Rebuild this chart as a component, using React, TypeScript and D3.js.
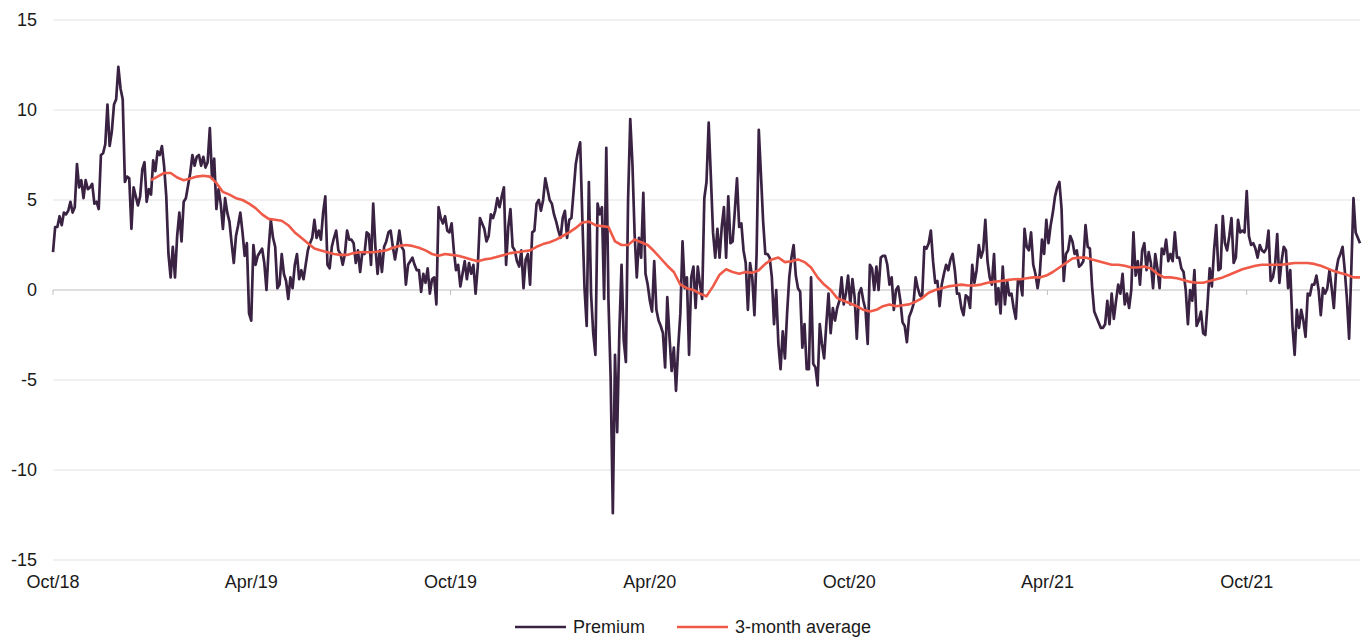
import React from "react";
import * as d3 from "d3";

// premium / discount (%), one reading every 2 days from 1 Oct 2018
const premium = [
  2.1, 3.5, 3.5, 4.1, 3.6, 4.3, 4.2, 4.4, 4.9, 4.3,
  4.6, 7.0, 5.7, 6.1, 5.1, 6.1, 5.6, 5.7, 5.9, 4.8,
  4.9, 4.5, 7.5, 7.6, 8.1, 10.3, 8.0, 8.8, 10.3, 10.6,
  12.4, 11.2, 10.6, 6.0, 6.3, 6.2, 3.4, 5.7, 5.2, 4.7,
  5.2, 6.7, 7.1, 4.9, 5.6, 5.3, 7.2, 6.6, 7.7, 7.5,
  8.0, 6.9, 5.2, 2.0, 0.7, 2.4, 0.7, 3.0, 4.3, 2.7,
  4.9, 5.1, 5.8, 6.5, 7.5, 6.9, 7.4, 7.5, 6.9, 7.4,
  6.8, 7.1, 9.0, 6.2, 7.3, 4.5, 5.6, 4.8, 3.4, 5.1,
  4.3, 3.8, 2.6, 1.5, 3.0, 3.6, 4.3, 3.2, 1.9, 2.6,
  -1.3, -1.7, 2.5, 1.4, 1.9, 2.1, 2.3, 1.5, 0, 2.3,
  3.9, 2.9, 2.4, 0.1, 0.3, 2.0, 0.9, 0.5, -0.5, 0.7,
  0.1, 1.4, 2.0, 0.6, 1.1, 0.6, 1.4, 2.2, 2.6, 2.9,
  3.9, 2.9, 3.3, 2.8, 4.3, 5.2, 1.4, 1.2, 2.4, 2.9,
  3.3, 2.2, 2.0, 1.4, 2.0, 3.3, 2.8, 2.8, 2.6, 1.5,
  2.2, 1.0, 2.1, 2.0, 3.2, 3.1, 1.4, 4.8, 2.4, 0.9,
  2.2, 1.0, 2.4, 2.7, 3.2, 3.3, 2.4, 1.7, 2.4, 3.3,
  2.4, 2.2, 0.3, 1.4, 1.6, 1.8, 1.4, 1.1, 1.1, -0.1,
  0.9, 0.4, 1.2, -0.2, 0.6, 0.7, -0.8, 4.6, 4.0, 3.7,
  4.1, 3.3, 3.2, 3.7, 2.2, 1.1, 1.4, 0.2, 0.9, 1.6,
  0.6, 1.5, 0.9, 1.4, -0.2, 1.3, 4.0, 3.7, 3.4, 2.7,
  3.0, 4.2, 4.0, 4.4, 5.1, 4.6, 5.2, 5.7, 1.4, 3.5,
  4.5, 2.4, 2.2, 1.6, 1.3, 2.2, 0.1, 1.7, 2.0, 0.3,
  3.2, 3.3, 4.8, 5.0, 4.4, 5.0, 6.2, 5.6, 5.0, 4.8,
  4.2, 3.8, 3.3, 2.9, 4.0, 4.4, 2.9, 3.9, 4.0, 5.5,
  7.0, 7.7, 8.2, 4.0, 0.1, -2.0, 6.0, -0.2, -2.4, -3.6,
  4.8, 4.2, 4.6, -0.5, 7.9, -0.6, -4.9, -12.4, -3.6, -7.9,
  -2.3, 1.4, -2.8, -4.0, 5.0, 9.5, 7.0, 3.1, 0.7, 2.9,
  1.8, 5.4, 0.9, 0.3, -0.6, -1.2, 1.6, -1.1, -1.7, -2.0,
  -2.4, -4.3, -0.4, -2.6, -4.5, -3.2, -5.6, -3.2, -1.3, 2.7,
  0.1, 0.7, -3.6, 0.7, 1.3, -1.0, 1.3, 0.3, -0.5, 5.1,
  6.0, 9.3, 6.3, 3.2, 1.8, 3.4, 1.8, 3.5, 4.6, 1.8,
  5.2, 2.6, 2.7, 4.4, 6.2, 3.5, 3.7, 2.2, 1.5, -1.1,
  1.5, 0.7, -1.4, 2.0, 8.9, 6.4, 3.8, 2.0, 2.0, 1.8,
  0.7, -1.9, 0, -3.0, -4.4, -2.3, -3.8, -1.3, 0.7, 1.8,
  2.5, 0.8, 0.1, -0.1, -3.2, -1.9, -4.4, -4.4, 0.7, -4.1,
  -4.3, -5.3, -1.9, -3.0, -3.8, -1.9, -0.2, -2.4, -1.0, -1.7,
  -1.0, -0.6, 0.7, -0.8, -0.2, 0.8, -0.8, 0.6, -0.4, -2.7,
  -0.2, 0.1, -0.6, -1.1, -3.0, 1.4, 1.2, 0, 1.3, 0,
  1.8, 1.9, 1.9, 1.4, 0.3, 0.7, -1.1, 0, 0.2, -0.6,
  -1.8, -2.0, -2.9, -1.5, -1.2, -0.8, 0.7, 0.1, -0.3, -0.4,
  2.4, 2.3, 2.6, 3.3, 1.6, 0.4, 0.5, -0.9, 0.3, 0.9,
  1.4, 1.1, 1.7, 2.0, 1.1, -0.2, -0.2, -1.0, -1.4, -0.3,
  -0.4, -1.0, 1.4, 0.4, 1.1, 2.5, 1.8, 2.2, 3.9, 1.6,
  0.7, 0.3, 2.0, -0.8, 0.1, -1.3, 1.3, -0.8, 0.5, -0.3,
  -0.2, -1.0, -1.6, 0.6, 0.5, -0.3, 3.4, 2.4, 2.2, 3.2,
  1.4, 0.9, 0.1, 0.9, 2.8, 2.0, 3.9, 2.6, 3.6, 4.3,
  5.2, 5.7, 6.0, 4.5, 0.5, 2.0, 2.2, 3.0, 2.7, 2.0,
  2.2, 1.3, 1.4, 1.6, 3.6, 2.4, 2.3, 0.2, -1.2, -1.5,
  -1.8, -2.1, -2.1, -1.9, -0.6, -1.9, -0.2, -1.6, -0.6, 0.3,
  -0.2, 0.9, -0.8, -0.2, -1.0, 0, 3.2, 0.8, 1.6, 0.3,
  2.2, 2.6, 1.1, 2.1, 1.5, 0.1, 2.0, 1.2, 0.1, 2.3,
  2.0, 2.8, 1.6, 2.0, 1.6, 3.2, 1.8, 1.8, 1.2, 1.0,
  0, -1.9, 0, -0.6, 1.1, -2.0, -1.7, -1.2, -2.4, -2.5,
  -0.8, 1.2, 0.2, 2.2, 3.6, 1.1, 1.2, 4.1, 2.6, 2.2,
  3.0, 4.0, 1.5, 1.8, 3.9, 3.2, 3.3, 3.2, 5.5, 3.0,
  2.5, 2.6, 2.3, 1.8, 2.5, 2.2, 2.1, 2.3, 3.3, 0.5,
  0.7, 1.4, 3.1, 0.4, 1.6, 2.4, 2.2, 0.1, 1.1, -2.0,
  -3.6, -1.1, -2.1, -1.1, -1.7, -2.6, -0.2, -0.3, 0.3, 0.3,
  0.8, 0, -1.4, 0.1, -0.2, 0.1, 1.1, 0.1, -1.0, 1.0,
  1.7, 2.0, 2.4, 1.1, -0.5, -2.7, 1.1, 5.1, 3.2, 2.9,
  2.6,
];

// 3-month rolling average, one reading every 6 days from 30 Dec 2018
const average = [
  6.1, 6.3, 6.5, 6.5, 6.25, 6.1, 6.2, 6.3, 6.35, 6.3,
  5.95, 5.45, 5.3, 5.1, 5.0, 4.8, 4.55, 4.2, 3.95, 3.9,
  3.85, 3.6, 3.2, 2.9, 2.6, 2.3, 2.2, 2.1, 2.0, 1.95,
  1.95, 2.05, 2.1, 2.1, 2.1, 2.15, 2.2, 2.35, 2.45, 2.5,
  2.45, 2.35, 2.2, 2.0, 1.9, 2.0, 1.95, 1.9, 1.8, 1.7,
  1.6, 1.7, 1.75, 1.85, 1.95, 2.05, 2.1, 2.15, 2.2, 2.4,
  2.55, 2.65, 2.8, 3.0, 3.2, 3.45, 3.75, 3.8, 3.6, 3.55,
  3.5, 2.7, 2.5, 2.5, 2.8, 2.65, 2.5, 2.15, 1.75, 1.35,
  1.0, 0.3, 0.1, 0, -0.2, -0.35, 0.2, 0.85, 1.15, 1.0,
  0.9, 1.0, 0.95, 1.1, 1.45, 1.7, 1.8, 1.55, 1.6, 1.7,
  1.55, 1.25, 0.7, 0.3, 0, -0.45, -0.6, -0.75, -0.9, -1.1,
  -1.2, -1.1, -0.9, -0.8, -0.9, -0.85, -0.8, -0.65, -0.45, -0.15,
  0, 0.1, 0.2, 0.25, 0.3, 0.25, 0.25, 0.3, 0.4, 0.45,
  0.5, 0.55, 0.6, 0.6, 0.65, 0.7, 0.7, 0.8, 1.0, 1.25,
  1.5, 1.75, 1.8, 1.8, 1.7, 1.6, 1.5, 1.4, 1.4, 1.35,
  1.25, 1.25, 1.3, 1.2, 0.9, 0.7, 0.7, 0.65, 0.55, 0.45,
  0.4, 0.4, 0.5, 0.6, 0.7, 0.85, 1.0, 1.15, 1.25, 1.35,
  1.4, 1.4, 1.4, 1.4, 1.45, 1.5, 1.5, 1.5, 1.45, 1.35,
  1.2, 1.05, 0.95, 0.85, 0.7, 0.7,
];

const yTicks = [15, 10, 5, 0, -5, -10, -15];
const xTickLabels = ["Oct/18", "Apr/19", "Oct/19", "Apr/20", "Oct/20", "Apr/21", "Oct/21"];

const START = new Date(2018, 9, 1);
const END = new Date(2022, 0, 13);
const PREMIUM_STEP = 2;
const AVG_START = 90;
const AVG_STEP = 6;

const W = 1362;
const H = 639;
const font = "'Liberation Sans', Arial, sans-serif";
const purple = "#3a2243";
const orange = "#ef5b48";

export default function App() {
  const x = d3.scaleTime().domain([START, END]).range([53, 1360]);
  const y = d3.scaleLinear().domain([-15, 15]).range([560, 20]);

  const premiumPts: [Date, number][] = premium.map((v, i) => [d3.timeDay.offset(START, i * PREMIUM_STEP), v]);
  const avgPts: [Date, number][] = average.map((v, i) => [d3.timeDay.offset(START, AVG_START + i * AVG_STEP), v]);

  const line = d3
    .line<[Date, number]>()
    .x((d) => x(d[0]))
    .y((d) => y(d[1]));

  const tickDates = xTickLabels.map((_, i) => d3.timeMonth.offset(START, i * 6));

  return (
    <svg width={W} height={H} style={{ position: "absolute", left: 0, top: 0 }} fontFamily={font}>
      <rect width={W} height={H} fill="#fff" />
      {yTicks.map((t) => (
        <g key={t}>
          <line
            x1={53}
            x2={1360}
            y1={y(t)}
            y2={y(t)}
            stroke={t === 0 ? "#bfbfbf" : "#e3e3e3"}
            strokeWidth={1}
          />
          <text x={37} y={y(t)} dy="0.35em" textAnchor="end" fontSize={18} fill="#1a1a1a">
            {t}
          </text>
        </g>
      ))}
      {tickDates.map((d, i) => (
        <g key={i}>
          <line x1={x(d)} x2={x(d)} y1={y(0)} y2={y(0) + 5} stroke="#bfbfbf" />
          <text x={x(d)} y={588} textAnchor="middle" fontSize={18} fill="#1a1a1a">
            {xTickLabels[i]}
          </text>
        </g>
      ))}
      <path d={line(premiumPts) || ""} fill="none" stroke={purple} strokeWidth={2.7} strokeLinejoin="round" />
      <path d={line(avgPts) || ""} fill="none" stroke={orange} strokeWidth={2.6} strokeLinejoin="round" />

      <g>
        <line x1={515} x2={566} y1={627} y2={627} stroke={purple} strokeWidth={2.7} />
        <text x={573} y={633} fontSize={18} fill="#1a1a1a">Premium</text>
        <line x1={677} x2={728} y1={627} y2={627} stroke={orange} strokeWidth={2.7} />
        <text x={735} y={633} fontSize={18} fill="#1a1a1a">3-month average</text>
      </g>
    </svg>
  );
}
